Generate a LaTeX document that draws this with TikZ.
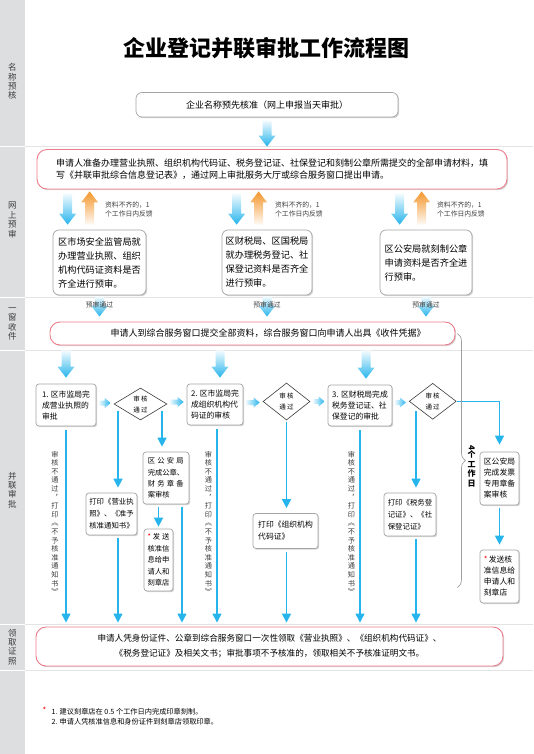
\documentclass[tikz,border=0pt]{standalone}
\usepackage{fontspec}
\setmainfont{Noto Sans CJK SC}
\usepackage{tikz}
\usetikzlibrary{shapes.geometric, arrows.meta, shadows, calc, decorations.pathreplacing}

\definecolor{flowblue}{RGB}{38,180,236}
\definecolor{flamingo}{RGB}{236,124,138}
\definecolor{boxgray}{RGB}{165,165,165}
\definecolor{sidegray}{RGB}{221,222,224}
\definecolor{arroworange}{RGB}{243,150,45}
\definecolor{txtgray}{RGB}{60,60,60}

\newcommand{\fsz}[2]{\fontsize{#1}{#2}\selectfont}
% thick shaded arrows
\newcommand{\fatdown}[2]{%
  \shade [top color=flowblue!5, bottom color=flowblue] let \p1=#1, \p2=#2 in
  (\x1-4.5pt,\y1) -- (\x1+4.5pt,\y1) -- (\x1+4.5pt,\y2+11pt) -- (\x1+8.5pt,\y2+11pt)
  -- (\x1,\y2) -- (\x1-8.5pt,\y2+11pt) -- (\x1-4.5pt,\y2+11pt) -- cycle;}
\newcommand{\fatup}[2]{%
  \shade [top color=arroworange, bottom color=arroworange!5] let \p1=#1, \p2=#2 in
  (\x1-4.5pt,\y1) -- (\x1+4.5pt,\y1) -- (\x1+4.5pt,\y2-11pt) -- (\x1+8.5pt,\y2-11pt)
  -- (\x1,\y2) -- (\x1-8.5pt,\y2-11pt) -- (\x1-4.5pt,\y2-11pt) -- cycle;}
\newcommand{\fatright}[2]{%
  \shade [left color=flowblue!10, right color=flowblue] let \p1=#1, \p2=#2 in
  (\x1,\y1-2.5pt) -- (\x2-6pt,\y1-2.5pt) -- (\x2-6pt,\y1-5pt) -- (\x2,\y1)
  -- (\x2-6pt,\y1+5pt) -- (\x2-6pt,\y1+2.5pt) -- (\x1,\y1+2.5pt) -- cycle;}

\begin{document}
\begin{tikzpicture}[x=1pt, y=-1pt,
>={Triangle[width=9pt,length=9pt]},
box/.style={rectangle, draw=boxgray, fill=white, rounded corners=6pt, line width=0.7pt, inner sep=2pt,
  drop shadow={shadow xshift=1.2pt, shadow yshift=-1.2pt, opacity=0.35}},
pinkbox/.style={box, draw=flamingo, line width=0.9pt, rounded corners=10pt},
smallbox/.style={box, rounded corners=3pt},
check/.style={diamond, draw=txtgray, fill=white, line width=0.6pt, inner sep=0pt, align=center, font=\fsz{6.5}{11}},
flow/.style={draw=flowblue, line width=1.4pt, ->, shorten <=3pt, shorten >=5pt},
side/.style={align=center, text=txtgray, font=\fsz{8.5}{9.4}},
hand/.style={align=center, text=txtgray, font=\fsz{6.8}{9}},
]
\useasboundingbox (0,0) rectangle (533,754);
% side band and dividers
\fill [sidegray] (0,0) rectangle (24.5,754);
\foreach \y in {146,297,350,624,670}{
  \draw [gray!22, line width=0.8pt] (24.5,\y) -- (533,\y);
  \draw [white, line width=0.8pt] (0,\y) -- (24.5,\y);
}
\node (lab1) [side] at (12.5,81.5) {名\\称\\预\\核};
\node (lab2) [side] at (12.5,220) {网\\上\\预\\审};
\node (lab3) [side] at (12.5,324) {一\\窗\\收\\件};
\node (lab4) [side] at (12.5,490) {并\\联\\审\\批};
\node (lab5) [side] at (12.5,647) {领\\取\\证\\照};

\node (title) [font=\fsz{22}{26}\bfseries] at (266,48) {企业登记并联审批工作流程图};

%name check
\node (namecheck) [box, minimum width=262, minimum height=24.5, font=\fsz{9}{12}] at (267,104.75) {企业名称预先核准（网上申报当天审批）};

%online pre-review
\node (apply) [pinkbox, minimum width=470, minimum height=39.5, align=left, font=\fsz{9}{12}] at (272,169.25)
  {申请人准备办理营业执照、组织机构代码证、税务登记证、社保登记和刻制公章所需提交的全部申请材料，填\\
   写《并联审批综合信息登记表》，通过网上审批服务大厅或综合服务窗口提出申请。};
\node (pre1) [box, minimum width=93, minimum height=65, align=left, font=\fsz{9.2}{14}] at (99.5,262.5)
  {区市场安全监管局就\\办理营业执照、组织\\机构代码证资料是否\\齐全进行预审。};
\node (pre2) [box, minimum width=90, minimum height=65, align=left, font=\fsz{9.2}{14}] at (267,262.5)
  {区财税局、区国税局\\就办理税务登记、社\\保登记资料是否齐全\\进行预审。};
\node (pre3) [box, minimum width=92, minimum height=65, align=left, font=\fsz{9.2}{14}] at (426,262.5)
  {区公安局就刻制公章\\申请资料是否齐全进\\行预审。};

%one window
\node (receive) [pinkbox, minimum width=405, minimum height=23, font=\fsz{9}{12}] at (252.5,333.5)
  {\hspace*{31pt}申请人到综合服务窗口提交全部资料，综合服务窗口向申请人出具《收件凭据》};

%parallel review, first row
\node (step1) [smallbox, minimum width=60, minimum height=42, align=left, font=\fsz{7.8}{11}] at (66,405)
  {1. 区市监局完\\成营业执照的\\审批};
\node (check1) [check, minimum width=53, minimum height=32] at (140.5,404) {审\,核\\通\,过};
\node (step2) [smallbox, minimum width=56, minimum height=41, align=left, font=\fsz{7.8}{11}] at (215,404.5)
  {2. 区市监局完\\成组织机构代\\码证的审核};
\node (check2) [check, minimum width=47, minimum height=37] at (286.5,401.5) {审\,核\\通\,过};
\node (step3) [smallbox, minimum width=64, minimum height=41, align=left, font=\fsz{7.8}{11}] at (360,405.5)
  {3. 区财税局完成\\税务登记证、社\\保登记的审批};
\node (check3) [check, minimum width=47, minimum height=36] at (432.7,401.3) {审\,核\\通\,过};

%second row
\node (print1) [smallbox, minimum width=51, minimum height=42, align=left, font=\fsz{7.4}{12}] at (111.5,514)
  {打印《营业执\\照》、《准予\\核准通知书》};
\node (seal1) [smallbox, minimum width=46, minimum height=52, align=left, font=\fsz{7.3}{11.4}] at (166,478)
  {\makebox[36pt][s]{区\hfill 公\hfill 安\hfill 局}\\完成公章、\\\makebox[36pt][s]{财\hfill 务\hfill 章\hfill 备}\\案审核};
\node (send1) [smallbox, minimum width=29, minimum height=62, align=left, font=\fsz{7.3}{11.6}] at (158.5,560)
  {\makebox[22pt][s]{\textcolor{red}{*}\hfill 发\hfill 送}\\核准信\\息给申\\请人和\\刻章店};
\node (print2) [smallbox, minimum width=65, minimum height=35, align=left, font=\fsz{7.8}{12}] at (285.5,531)
  {打印《组织机构\\代码证》};
\node (print3) [smallbox, minimum width=52, minimum height=43, align=left, font=\fsz{7.4}{12}] at (410,514.5)
  {打印《税务登\\记证》、《社\\保登记证》};
\node (seal2) [smallbox, minimum width=39, minimum height=53, align=left, font=\fsz{7.8}{11}] at (499.5,478.5)
  {区公安局\\完成发票\\专用章备\\案审核};
\node (send2) [smallbox, minimum width=39, minimum height=53, align=left, font=\fsz{7.8}{11}] at (499.5,576.5)
  {\textcolor{red}{*}\,发送核\\准信息给\\申请人和\\刻章店};

%collect
\node (collect) [pinkbox, minimum width=467, minimum height=39, align=center, font=\fsz{8.6}{15}] at (269.5,646.5)
  {申请人凭身份证件、公章到综合服务窗口一次性领取《营业执照》、《组织机构代码证》、\\
   《税务登记证》及相关文书；审批事项不予核准的，领取相关不予核准证明文书。};

%notes
\node (star) [text=red, font=\fsz{8}{8}] at (44.5,710) {*};
\node (note) [anchor=west, align=left, font=\fsz{7.2}{9.5}] at (48,716.5)
  {1. 建议刻章店在 0.5 个工作日内完成印章刻制。\\2. 申请人凭核准信息和身份证件到刻章店领取印章。};

%thick arrows
\fatdown{([yshift=-3pt]namecheck.south)}{([yshift=2.5pt]apply.north)}
\fatdown{([xshift=15pt,yshift=-4pt]pre1.north west |- apply.south)}{([xshift=15pt,yshift=5pt]pre1.north west)}
\fatdown{([xshift=15pt,yshift=-4pt]pre2.north west |- apply.south)}{([xshift=15pt,yshift=5pt]pre2.north west)}
\fatdown{([xshift=20pt,yshift=-4pt]pre3.north west |- apply.south)}{([xshift=20pt,yshift=5pt]pre3.north west)}
\fatup{([xshift=37pt,yshift=5pt]pre1.north west)}{([xshift=37pt,yshift=-2pt]pre1.north west |- apply.south)}
\fatup{([xshift=37pt,yshift=5pt]pre2.north west)}{([xshift=37pt,yshift=-2pt]pre2.north west |- apply.south)}
\fatup{([xshift=42pt,yshift=5pt]pre3.north west)}{([xshift=42pt,yshift=-2pt]pre3.north west |- apply.south)}
\node (late1) [hand, align=left, anchor=west] at ($(pre1.north west)+(49,-20)$) {资料不齐的，1\\个工作日内反馈};
\node (late2) [hand, align=left, anchor=west] at ($(pre2.north west)+(50,-20)$) {资料不齐的，1\\个工作日内反馈};
\node (late3) [hand, align=left, anchor=west] at ($(pre3.north west)+(54,-20)$) {资料不齐的，1\\个工作日内反馈};
\fatdown{([yshift=-1pt]pre1.south)}{([yshift=5pt]pre1.south |- receive.north)}
\fatdown{([yshift=-1pt]pre2.south)}{([yshift=5pt]pre2.south |- receive.north)}
\fatdown{([yshift=-1pt]pre3.south)}{([yshift=5pt]pre3.south |- receive.north)}
\node (pass1) [hand] at ([yshift=-10pt]pre1.south) {预审通过};
\node (pass2) [hand] at ([yshift=-10pt]pre2.south) {预审通过};
\node (pass3) [hand] at ([yshift=-10pt]pre3.south) {预审通过};
\fatdown{([yshift=-5pt]step1.north |- receive.south)}{([yshift=6pt]step1.north)}
\fatdown{([xshift=5pt,yshift=-5pt]step2.north |- receive.south)}{([xshift=5pt,yshift=6pt]step2.north)}
\fatdown{([xshift=6pt,yshift=-5pt]step3.north |- receive.south)}{([xshift=6pt,yshift=6pt]step3.north)}
\fatright{([xshift=3pt,yshift=2pt]step1.east)}{([xshift=-3pt]check1.west)}
\fatright{([xshift=3pt,yshift=2pt]check1.east)}{([xshift=-3pt]step2.west)}
\fatright{([xshift=3pt,yshift=2pt]step2.east)}{([xshift=-3pt]check2.west)}
\fatright{([xshift=3pt]check2.east)}{([xshift=-3pt]step3.west)}
\fatright{([xshift=3pt,yshift=3pt]step3.east)}{([xshift=-3pt]check3.west)}

%thin connectors
\draw [flow, shorten <=4pt, shorten >=4pt] (step1.south) -- (step1.south |- collect.north);
\draw [flow, shorten <=7pt] ([xshift=6.5pt]print1.north |- check1.center) -- ([xshift=6.5pt]print1.north);
\draw [flow, shorten >=4pt] ([xshift=6.5pt]print1.south) -- ([xshift=6.5pt]print1.south |- collect.north);
\draw [flow, shorten <=7pt] ([xshift=-4pt]seal1.north |- check1.center) -- ([xshift=-4pt]seal1.north);
\draw [flow, shorten >=4pt] ([xshift=16pt]seal1.south) -- ([xshift=16pt]seal1.south |- collect.north);
\draw [flow, shorten >=2pt] (send1.north |- seal1.south) -- (send1.north);
\draw [flow, shorten <=4pt, shorten >=4pt] ([xshift=2pt]step2.south) -- ([xshift=2pt]step2.south |- collect.north);
\draw [flow, shorten <=2pt] (check2.south) -- (check2.south |- print2.north);
\draw [flow, shorten >=4pt] (check2.south |- print2.south) -- (check2.south |- collect.north);
\draw [flow, shorten <=4pt, shorten >=4pt] (step3.south) -- (step3.south |- collect.north);
\draw [flow, shorten <=10pt] ([xshift=6pt]print3.north |- check3.center) -- ([xshift=6pt]print3.north);
\draw [flow, shorten >=4pt] ([xshift=6pt]print3.south) -- ([xshift=6pt]print3.south |- collect.north);
\draw [flow, shorten <=0pt, shorten >=7pt] (check3.east) -| (seal2.north);
\draw [flow] (seal2.south) -- (send2.north);

%refusals
\node (deny1) [hand, font=\fsz{7.2}{8.6}] at ($(step1.south)+(-11,96.5)$)
  {审\\核\\不\\通\\过\\︐\\打\\印\\︽\\不\\予\\核\\准\\通\\知\\书\\︾};
\node (deny2) [hand, font=\fsz{7.2}{8.6}] at ($(step2.south)+(-6.5,97.5)$)
  {审\\核\\不\\通\\过\\︐\\打\\印\\︽\\不\\予\\核\\准\\通\\知\\书\\︾};
\node (deny3) [hand, font=\fsz{7.2}{8.6}] at ($(step3.south)+(-8.5,96.5)$)
  {审\\核\\不\\通\\过\\︐\\打\\印\\︽\\不\\予\\核\\准\\通\\知\\书\\︾};

%four working days
\coordinate (bracetop) at ([xshift=2pt]receive.east);
\coordinate (bracebot) at ([yshift=-254pt]bracetop);
\draw [decorate, decoration={brace, amplitude=8pt}, draw=gray!75, line width=0.7pt] (bracetop) -- (bracebot);
\node (days) [align=center, font=\fsz{8}{9.5}\bfseries] at (471.7,466) {\rotatebox{-90}{4}\\个\\工\\作\\日};
\end{tikzpicture}
\end{document}
